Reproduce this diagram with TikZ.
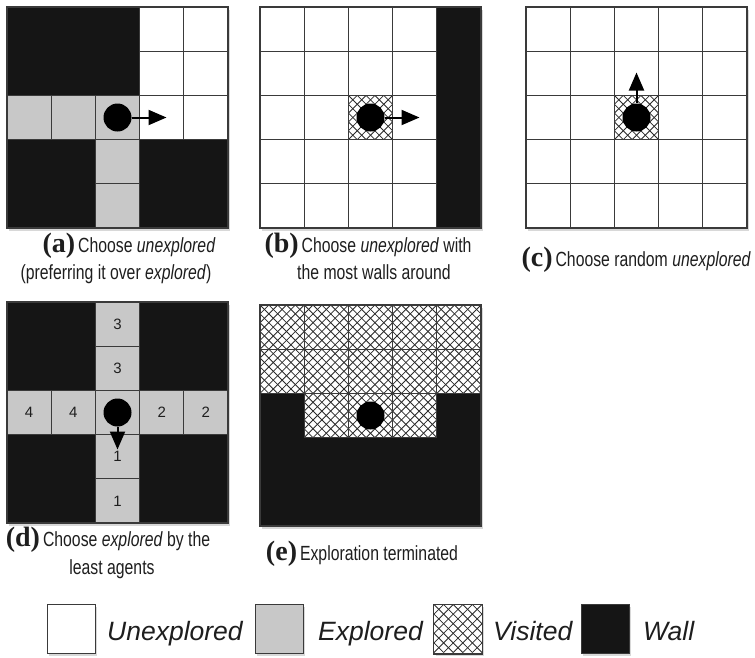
\documentclass[tikz,border=0pt]{standalone}
\usepackage{fontspec}
\setmainfont{Liberation Sans}
\newfontfamily\capfont[FakeStretch=0.77]{Liberation Sans}
\newfontfamily\labfont{Liberation Serif}
\usetikzlibrary{arrows.meta,shadows}
\definecolor{wallc}{HTML}{151515}
\definecolor{explc}{HTML}{C8C8C8}
\definecolor{gridc}{HTML}{3A3A3A}
\definecolor{hatchc}{HTML}{2A2A2A}
\definecolor{txtc}{HTML}{1E1E1E}
\newcommand\cs{44.2}
\newcommand\gcell[3]{\path[#3] ({#1*\cs},{#2*\cs}) rectangle ++(\cs,\cs);}
% hatched square: x0, y0, size
\newcommand\hatchsq[3]{%
 \begin{scope}
 \clip ({#1},{#2}) rectangle ++({#3},{#3});
 \fill[white] ({#1},{#2}) rectangle ++({#3},{#3});
 \foreach \k in {-5,...,5} {
   \draw[hatchline] ({#1+(\k)*(#3)/5},{#2}) -- ++({#3},{#3});
   \draw[hatchline] ({#1+(\k)*(#3)/5},{#2+#3}) -- ++({#3},{-(#3)});
 }
 \end{scope}}
\newcommand\vcell[2]{\hatchsq{#1*\cs}{#2*\cs}{\cs}\gcell{#1}{#2}{cellB}}
\newcommand\lab[1]{{\labfont\bfseries\fontsize{28}{28}\selectfont(#1)}\hspace{3pt}}
\newcommand\capsize{\capfont\fontsize{20.5}{20.5}\selectfont}
\tikzset{
 cellU/.style={draw=gridc, line width=1.1pt, fill=white},
 cellE/.style={draw=gridc, line width=1.1pt, fill=explc},
 cellB/.style={draw=gridc, line width=1.1pt},
 hatchline/.style={draw=hatchc, line width=0.8pt},
 panelbg/.style={fill=wallc, drop shadow={shadow xshift=1.5pt, shadow yshift=-2.5pt, opacity=0.3}},
 panelframe/.style={draw=gridc, line width=1.2pt},
 agent/.style={circle, fill=black, inner sep=0pt, minimum size=28pt},
 move/.style={line width=2pt, -{Triangle[length=18pt,width=15pt]}},
 capnode/.style={anchor=base, inner sep=0pt, font=\capsize, text=txtc},
 numnode/.style={inner sep=0pt, font=\fontsize{15}{15}\selectfont, text=txtc},
 legbox/.style={draw=gridc, line width=1pt, minimum width=48pt, minimum height=49pt, inner sep=0pt,
   drop shadow={shadow xshift=1.5pt, shadow yshift=-2.5pt, opacity=0.3}},
 legtext/.style={anchor=base west, inner sep=0pt, font=\itshape\fontsize{26.5}{26.5}\selectfont, text=txtc},
}
\begin{document}
\begin{tikzpicture}[x=1pt,y=-1pt]
\fill[white] (0,0) rectangle (755,657);
\useasboundingbox (0,0) rectangle (755,657);

% ---------- panel (a)
\begin{scope}[shift={(7,7)}]
\path[panelbg] (0,0) rectangle ({5*\cs},{5*\cs});
\foreach \c/\r in {3/0,4/0,3/1,4/1,3/2,4/2} {\gcell{\c}{\r}{cellU}}
\foreach \c/\r in {0/2,1/2,2/2,2/3,2/4} {\gcell{\c}{\r}{cellE}}
\path[panelframe] (0,0) rectangle ({5*\cs},{5*\cs});
\node[agent] (agA) at ({2.5*\cs},{2.5*\cs}) {};
\coordinate (tipA) at ({2.5*\cs+49},{2.5*\cs});
\draw[move] (agA) -- (tipA);
\end{scope}

% ---------- panel (b)
\begin{scope}[shift={(260,7)}]
\path[panelbg] (0,0) rectangle ({5*\cs},{5*\cs});
\foreach \c in {0,1,2,3} {\foreach \r in {0,1,2,3,4} {\gcell{\c}{\r}{cellU}}}
\vcell{2}{2}
\path[panelframe] (0,0) rectangle ({5*\cs},{5*\cs});
\node[agent] (agB) at ({2.5*\cs},{2.5*\cs}) {};
\coordinate (tipB) at ({2.5*\cs+49},{2.5*\cs});
\draw[move] (agB) -- (tipB);
\end{scope}

% ---------- panel (c)
\begin{scope}[shift={(526,7)}]
\path[panelbg] (0,0) rectangle ({5*\cs},{5*\cs});
\foreach \c in {0,1,2,3,4} {\foreach \r in {0,1,2,3,4} {\gcell{\c}{\r}{cellU}}}
\vcell{2}{2}
\path[panelframe] (0,0) rectangle ({5*\cs},{5*\cs});
\node[agent] (agC) at ({2.5*\cs},{2.5*\cs}) {};
\coordinate (tipC) at ({2.5*\cs},{2.5*\cs-45});
\draw[move] (agC) -- (tipC);
\end{scope}

% ---------- panel (d)
\begin{scope}[shift={(7,302)}]
\path[panelbg] (0,0) rectangle ({5*\cs},{5*\cs});
\foreach \c/\r in {2/0,2/1,0/2,1/2,2/2,3/2,4/2,2/3,2/4} {\gcell{\c}{\r}{cellE}}
\path[panelframe] (0,0) rectangle ({5*\cs},{5*\cs});
\node[numnode] (n1) at ({2.5*\cs},{0.5*\cs}) {3};
\node[numnode] (n2) at ({2.5*\cs},{1.5*\cs}) {3};
\node[numnode] (n3) at ({0.5*\cs},{2.5*\cs}) {4};
\node[numnode] (n4) at ({1.5*\cs},{2.5*\cs}) {4};
\node[numnode] (n5) at ({3.5*\cs},{2.5*\cs}) {2};
\node[numnode] (n6) at ({4.5*\cs},{2.5*\cs}) {2};
\node[numnode] (n7) at ({2.5*\cs},{3.5*\cs}) {1};
\node[numnode] (n8) at ({2.5*\cs},{4.5*\cs}) {1};
\node[agent] (agD) at ({2.5*\cs},{2.5*\cs}) {};
\coordinate (tipD) at ({2.5*\cs},{2.5*\cs+37});
\draw[move] (agD) -- (tipD);
\end{scope}

% ---------- panel (e)
\begin{scope}[shift={(260,305)}]
\path[panelbg] (0,0) rectangle ({5*\cs},{5*\cs});
\foreach \c/\r in {0/0,1/0,2/0,3/0,4/0,0/1,1/1,2/1,3/1,4/1,1/2,2/2,3/2} {\vcell{\c}{\r}}
\path[panelframe] (0,0) rectangle ({5*\cs},{5*\cs});
\node[agent] (agE) at ({2.5*\cs},{2.5*\cs}) {};
\end{scope}

% ---------- captions
\node[capnode] (capA1) at (129,252) {\lab{a}Choose \textit{unexplored}};
\node[capnode] (capA2) at (116,279) {(preferring it over \textit{explored})};
\node[capnode] (capB1) at (368,252) {\lab{b}Choose \textit{unexplored} with};
\node[capnode] (capB2) at (374,279) {the most walls around};
\node[capnode, anchor=base east] (capC) at (751,266) {\lab{c}Choose random \textit{unexplored}};
\node[capnode] (capD1) at (108,546) {\lab{d}Choose \textit{explored} by the};
\node[capnode] (capD2) at (112,574) {least agents};
\node[capnode] (capE) at (362,560) {\lab{e}Exploration terminated};

% ---------- legend
\node[legbox, fill=white] (lgU) at (71,628.5) {};
\node[legtext] (ltU) at (107,640) {Unexplored};
\node[legbox, fill=explc] (lgE) at (279,628.5) {};
\node[legtext] (ltE) at (318,640) {Explored};
\node[legbox, fill=white] (lgV) at (458,629) {};
\hatchsq{434}{604.5}{48}
\draw[draw=gridc, line width=1pt] (lgV.north west) rectangle (lgV.south east);
\node[legtext] (ltV) at (493,640) {Visited};
\node[legbox, fill=wallc] (lgW) at (605.5,629) {};
\node[legtext] (ltW) at (643,640) {Wall};
\end{tikzpicture}
\end{document}
